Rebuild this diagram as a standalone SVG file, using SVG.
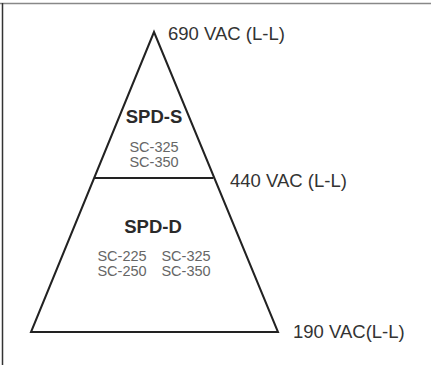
<svg xmlns="http://www.w3.org/2000/svg" width="431" height="365" viewBox="0 0 431 365">
  <style>
    .edge { fill: none; stroke: #222; stroke-width: 2; stroke-linejoin: miter; }
    .volt { font-family: "Liberation Sans", Arial, sans-serif; font-size: 18.5px; fill: #333; }
    .title { font-family: "Liberation Sans", Arial, sans-serif; font-size: 18.5px; font-weight: bold; fill: #2a2a2a; text-anchor: middle; }
    .model { font-family: "Liberation Sans", Arial, sans-serif; font-size: 14.5px; fill: #666; text-anchor: middle; }
  </style>
  <rect width="431" height="365" fill="#ffffff"/>
  <!-- frame -->
  <g id="frame">
    <line x1="0" y1="3.5" x2="431" y2="3.5" stroke="#888" stroke-width="1.5"/>
    <line x1="2.5" y1="3" x2="2.5" y2="365" stroke="#333" stroke-width="1.5"/>
  </g>
  <!-- pyramid outline and divider -->
  <g id="connectors">
    <polygon class="edge" points="154,32 278,332 31,332"/>
    <line class="edge" x1="94.5" y1="178" x2="213.5" y2="178"/>
  </g>
  <!-- upper tier -->
  <g id="spd-s">
    <text class="title" x="154" y="123">SPD-S</text>
    <text class="model" x="154" y="152">SC-325</text>
    <text class="model" x="154" y="167">SC-350</text>
  </g>
  <!-- lower tier -->
  <g id="spd-d">
    <text class="title" x="153" y="233">SPD-D</text>
    <text class="model" x="122" y="261">SC-225</text>
    <text class="model" x="186" y="261">SC-325</text>
    <text class="model" x="122" y="276">SC-250</text>
    <text class="model" x="186" y="276">SC-350</text>
  </g>
  <!-- voltage levels -->
  <g id="v690"><text class="volt" x="168" y="40">690 VAC (L-L)</text></g>
  <g id="v440"><text class="volt" x="230" y="187">440 VAC (L-L)</text></g>
  <g id="v190"><text class="volt" x="293" y="338">190 VAC(L-L)</text></g>
</svg>
